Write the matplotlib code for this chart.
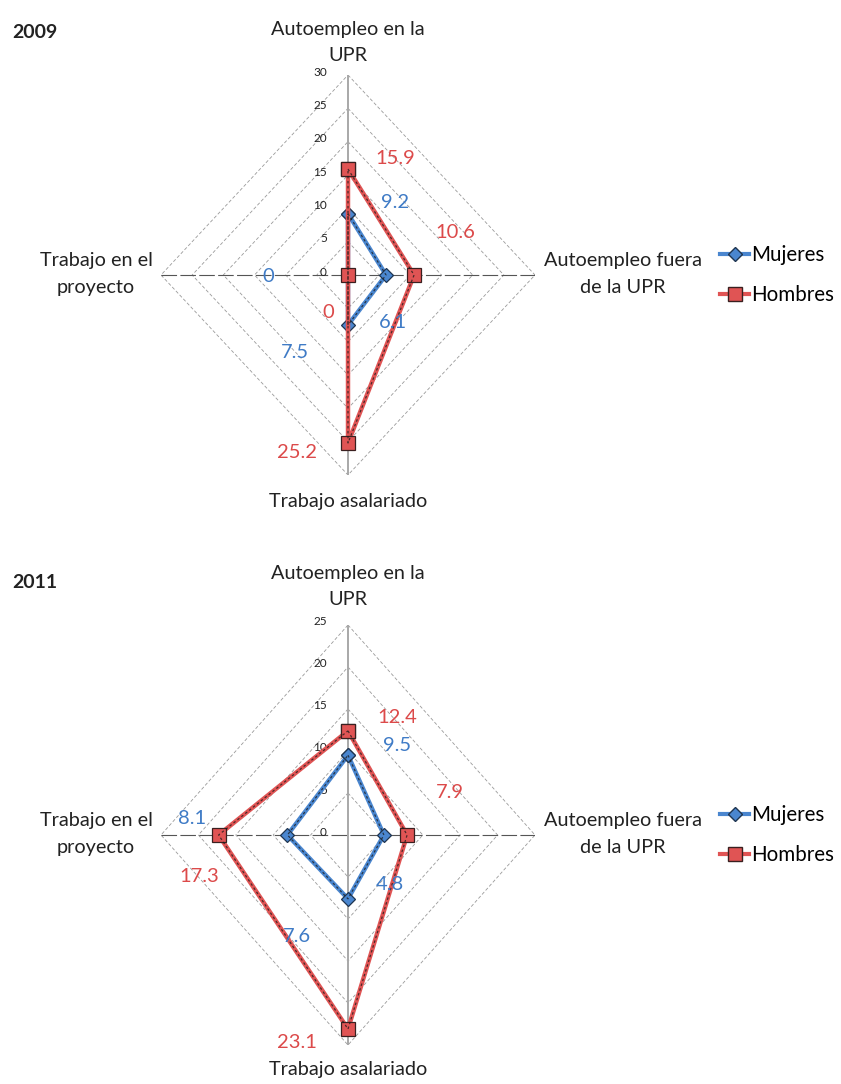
import matplotlib
matplotlib.use("Agg")
import matplotlib.pyplot as plt
from matplotlib.lines import Line2D
import numpy as np

plt.rcParams['font.family'] = ['Lato', 'DejaVu Sans']

# ---- data -------------------------------------------------------------
categories = ["Autoempleo en la\nUPR", "Autoempleo fuera\nde la UPR",
              "Trabajo asalariado", "Trabajo en el\nproyecto"]
series_names = ["Mujeres", "Hombres"]
years = ["2009", "2011"]

mujeres_2009 = [9.2, 6.1, 7.5, 0]
hombres_2009 = [15.9, 10.6, 25.2, 0]
mujeres_2011 = [9.5, 4.8, 7.6, 8.1]
hombres_2011 = [12.4, 7.9, 23.1, 17.3]

ticks_2009 = [0, 5, 10, 15, 20, 25, 30]
ticks_2011 = [0, 5, 10, 15, 20, 25]

# ---- styling ----------------------------------------------------------
W, H = 841, 1084
RED = '#e05454'
RED_TXT = '#dc4a4a'
BLUE = '#4a86cf'
BLUE_TXT = '#3f7bc6'
GRID = '#9a9a9a'
TXT = '#222222'
CAT_FS = 14.3

# offsets (pixels) of the value labels from their points, per category
lab_off_m_2009 = [(47, 11), (7, -48), (-53, -28), (-80, -2)]
lab_off_h_2009 = [(47, 11), (41, 42), (-51, -10), (-20, -38)]
lab_off_m_2011 = [(49, 10), (6, -50), (-51, -38), (-95, 17)]
lab_off_h_2011 = [(49, 13), (43, 43), (-51, -13), (-19, -42)]

fig = plt.figure(figsize=(W / 100, H / 100), dpi=100)

# spoke directions: top, right, bottom, left
angles = np.pi / 2 - np.arange(4) * np.pi / 2
dirx = np.round(np.cos(angles), 6)
diry = np.round(np.sin(angles), 6)


def radar(cx, cy, rx, ry, ticks, mujeres, hombres, off_m, off_h, year, year_y,
          top_gap, bottom_gap):
    rmax = ticks[-1]
    ax = fig.add_axes([(cx - rx) / W, 1 - (cy + ry) / H, 2 * rx / W, 2 * ry / H])
    ax.set_xlim(-rmax, rmax)
    ax.set_ylim(-rmax, rmax)
    ax.axis('off')

    # diamond gridlines
    for t in ticks[1:]:
        gx = np.append(dirx * t, dirx[0] * t)
        gy = np.append(diry * t, diry[0] * t)
        ax.plot(gx, gy, color=GRID, lw=0.6, ls=(0, (4, 2.5)), zorder=1)

    # spokes
    ax.plot([0, 0], [-rmax, rmax], color='#a8a8a8', lw=1.4, zorder=1.5)
    ax.plot([-rmax, rmax], [0, 0], color='#555555', lw=0.8,
            ls=(0, (14, 3)), zorder=1.5)

    # radial tick labels
    for t in ticks:
        ax.annotate(str(t), (0, t), xytext=(-21, 3), textcoords='offset pixels',
                    ha='right', va='center', fontsize=8.5, color=TXT)

    # series
    for vals, col, mk, ms in [(mujeres, BLUE, 'D', 7), (hombres, RED, 's', 10)]:
        v = np.array(vals, dtype=float)
        xs = np.append(dirx * v, dirx[0] * v[0])
        ys = np.append(diry * v, diry[0] * v[0])
        ax.plot(xs, ys, color=col, lw=3.2, solid_joinstyle='miter', zorder=3,
                marker=mk, ms=ms, mfc=col, mec='#3a2020' if col == RED else '#1f3550',
                mew=0.9)
        ax.plot(xs, ys, color='#1a1a1a', lw=0.9, ls=(0, (2, 2)), alpha=0.75, zorder=4)

    # value labels
    for vals, offs, col in [(mujeres, off_m, BLUE_TXT), (hombres, off_h, RED_TXT)]:
        for i, v in enumerate(vals):
            ax.annotate(f"{v:g}", (dirx[i] * v, diry[i] * v), xytext=offs[i],
                        textcoords='offset pixels', ha='center', va='center',
                        fontsize=14.5, color=col, zorder=5)

    # category labels
    ax.annotate(categories[0], (0, rmax), xytext=(0, top_gap), textcoords='offset pixels',
                ha='center', va='bottom', fontsize=CAT_FS, color=TXT, linespacing=1.65)
    ax.annotate(categories[1], (rmax, 0), xytext=(88, 1), textcoords='offset pixels',
                ha='center', va='center', fontsize=CAT_FS, color=TXT, linespacing=1.65)
    ax.annotate(categories[2], (0, -rmax), xytext=(0, -bottom_gap), textcoords='offset pixels',
                ha='center', va='top', fontsize=CAT_FS, color=TXT)
    ax.annotate(categories[3], (-rmax, 0), xytext=(-65, 1), textcoords='offset pixels',
                ha='center', va='center', fontsize=CAT_FS, color=TXT, linespacing=1.65)

    # year heading
    fig.text(12 / W, 1 - year_y / H, year, fontsize=14, fontweight='bold',
             color=TXT, ha='left', va='center')

    # legend
    handles = [Line2D([], [], color=BLUE, lw=3, marker='D', ms=7, mfc=BLUE, mec='#1f3550'),
               Line2D([], [], color=RED, lw=3, marker='s', ms=10, mfc=RED, mec='#3a2020')]
    fig.legend(handles, series_names, loc='center left',
               bbox_to_anchor=(712 / W, 1 - cy / H), frameon=False,
               handlelength=1.4, handletextpad=0.1, labelspacing=1.0,
               fontsize=14.8, borderaxespad=0)


radar(348, 275, 187, 200, ticks_2009, mujeres_2009, hombres_2009,
      lab_off_m_2009, lab_off_h_2009, years[0], 33, 11, 18)
radar(348, 835, 187, 210, ticks_2011, mujeres_2011, hombres_2011,
      lab_off_m_2011, lab_off_h_2011, years[1], 583, 17, 16)

fig.savefig("out.png", dpi=100, facecolor='white')
